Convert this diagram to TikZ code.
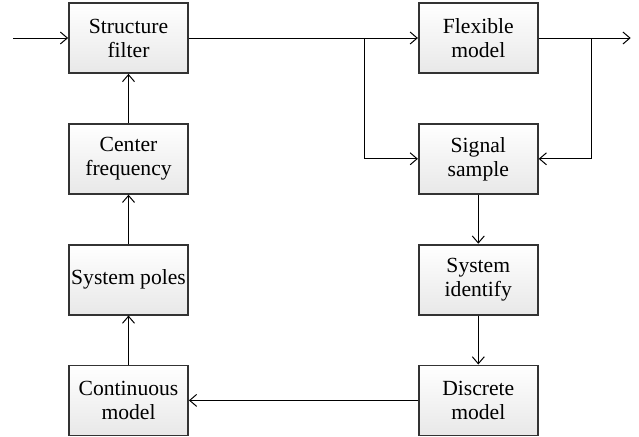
\documentclass[tikz,border=0pt]{standalone}
\usepackage{fontspec}
\setmainfont{Liberation Serif}
\usetikzlibrary{arrows.meta,positioning,calc}

\begin{document}
\begin{tikzpicture}[
      >={Straight Barb[length=3.5pt, width=6pt]}, node distance=24.5pt and 114.5pt,
      blk/.style={draw=black!80, line width=0.9pt, minimum width=59.5pt, minimum height=35pt,
                  inner sep=1pt, align=center, font=\fontsize{10.8}{12}\selectfont,
                  top color=white, middle color=white, bottom color=black!9},
      con/.style={line width=0.5pt}]
    \useasboundingbox (0,0) rectangle (319.5pt,-218pt);
    % left column
    \node[blk] (filt) at (64.25pt,-19pt) {Structure\\filter};
    \node[blk, below=of filt] (cfreq) {Center\\frequency};
    \node[blk, below=of cfreq] (poles) {System poles};
    \node[blk, below=of poles] (cont) {Continuous\\model};
    % right column
    \node[blk, right=of filt] (flex) {Flexible\\model};
    \node[blk, below=of flex] (sig) {Signal\\sample};
    \node[blk, below=of sig] (ident) {System\\identify};
    \node[blk, below=of ident] (disc) {Discrete\\model};
    \coordinate (in) at ($(filt.west)+(-27.5pt,0)$);
    \coordinate (out) at ($(flex.east)+(46pt,0)$);
    \coordinate (bl) at ($(filt.east)+(88pt,0)$);
    \coordinate (br) at ($(flex.east)+(26.5pt,0)$);
    \draw[con, ->] (in) -- (filt);
    \draw[con, ->] (filt) -- (flex);
    \draw[con, ->] (bl) |- (sig.west);
    \draw[con, ->] (flex) -- (out);
    \draw[con, ->] (br) |- (sig.east);
    \draw[con, ->] (sig) -- (ident);
    \draw[con, ->] (ident) -- (disc);
    \draw[con, ->] (disc) -- (cont);
    \draw[con, ->] (cont) -- (poles);
    \draw[con, ->] (poles) -- (cfreq);
    \draw[con, ->] (cfreq) -- (filt);
  \end{tikzpicture}
\end{document}
